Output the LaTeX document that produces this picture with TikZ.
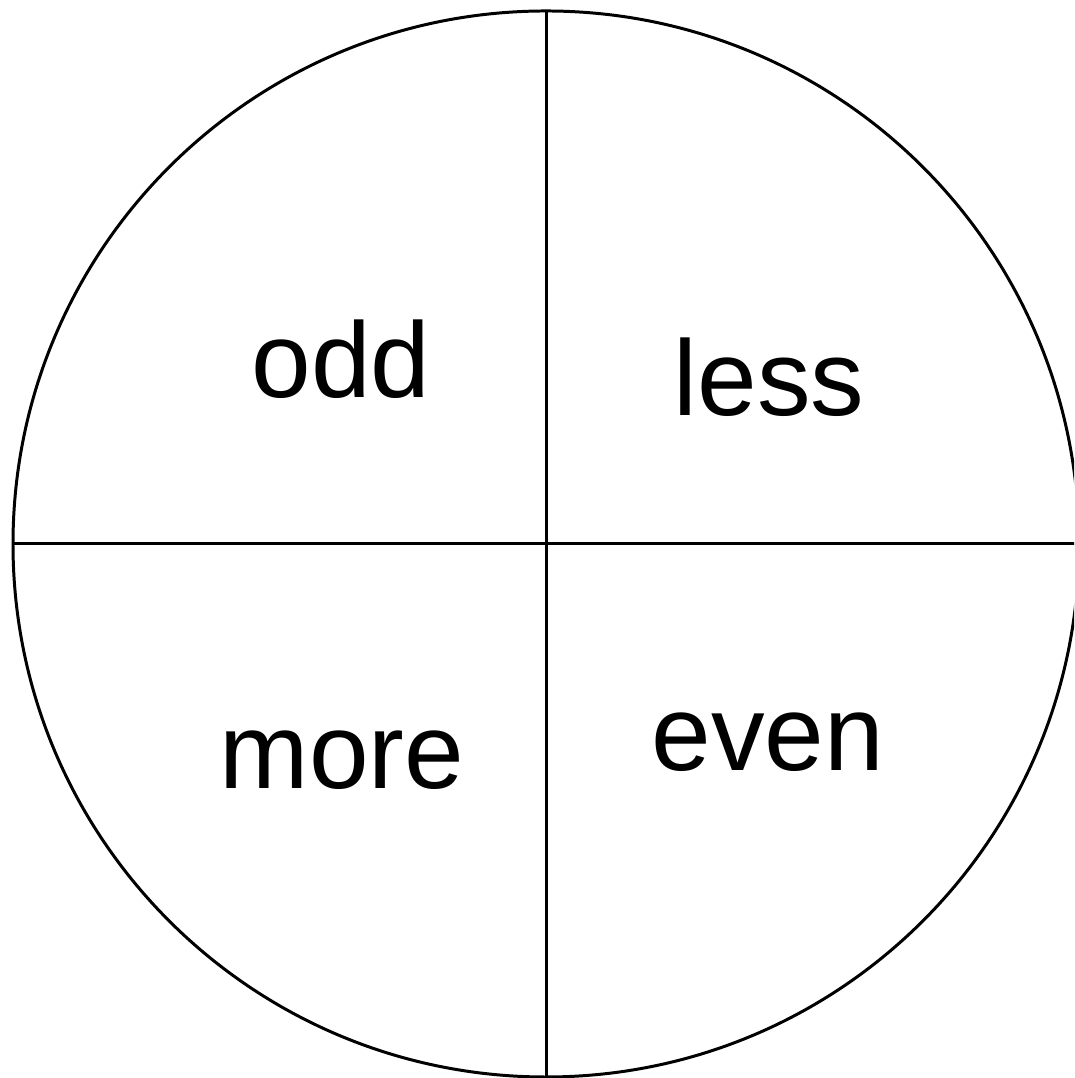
\documentclass[tikz,border=0pt]{standalone}
\usepackage{fontspec}
\setmainfont{Liberation Sans}
\usetikzlibrary{calc}

\begin{document}
\begin{tikzpicture}[line width=0.85pt,
    word/.style={anchor=base,inner sep=0pt,font=\fontsize{30.5}{36}\selectfont}]
				\path[use as bounding box]
				(0,0) rectangle (10.74,10.78);
				\clip (0,0) rectangle (10.74,10.78);
				\coordinate (c) at (5.46,5.34);
				\coordinate (top) at ($(c)+(0,5.33)$);
				\coordinate (bot) at ($(c)+(0,-5.33)$);
				\coordinate (lft) at ($(c)+(-5.33,0)$);
				\coordinate (rgt) at ($(c)+(5.33,0)$);
				\draw (c) circle (5.33);
				\draw (top) -- (bot);
				\draw (lft) -- (rgt);
				\node[word] (odd) at (3.41,6.80) {odd};
				\node[word] (less) at (7.69,6.62) {less};
				\node[word] (more) at (3.42,2.89) {more};
				\node[word] (even) at (7.68,3.07) {even};
			\end{tikzpicture}
\end{document}
